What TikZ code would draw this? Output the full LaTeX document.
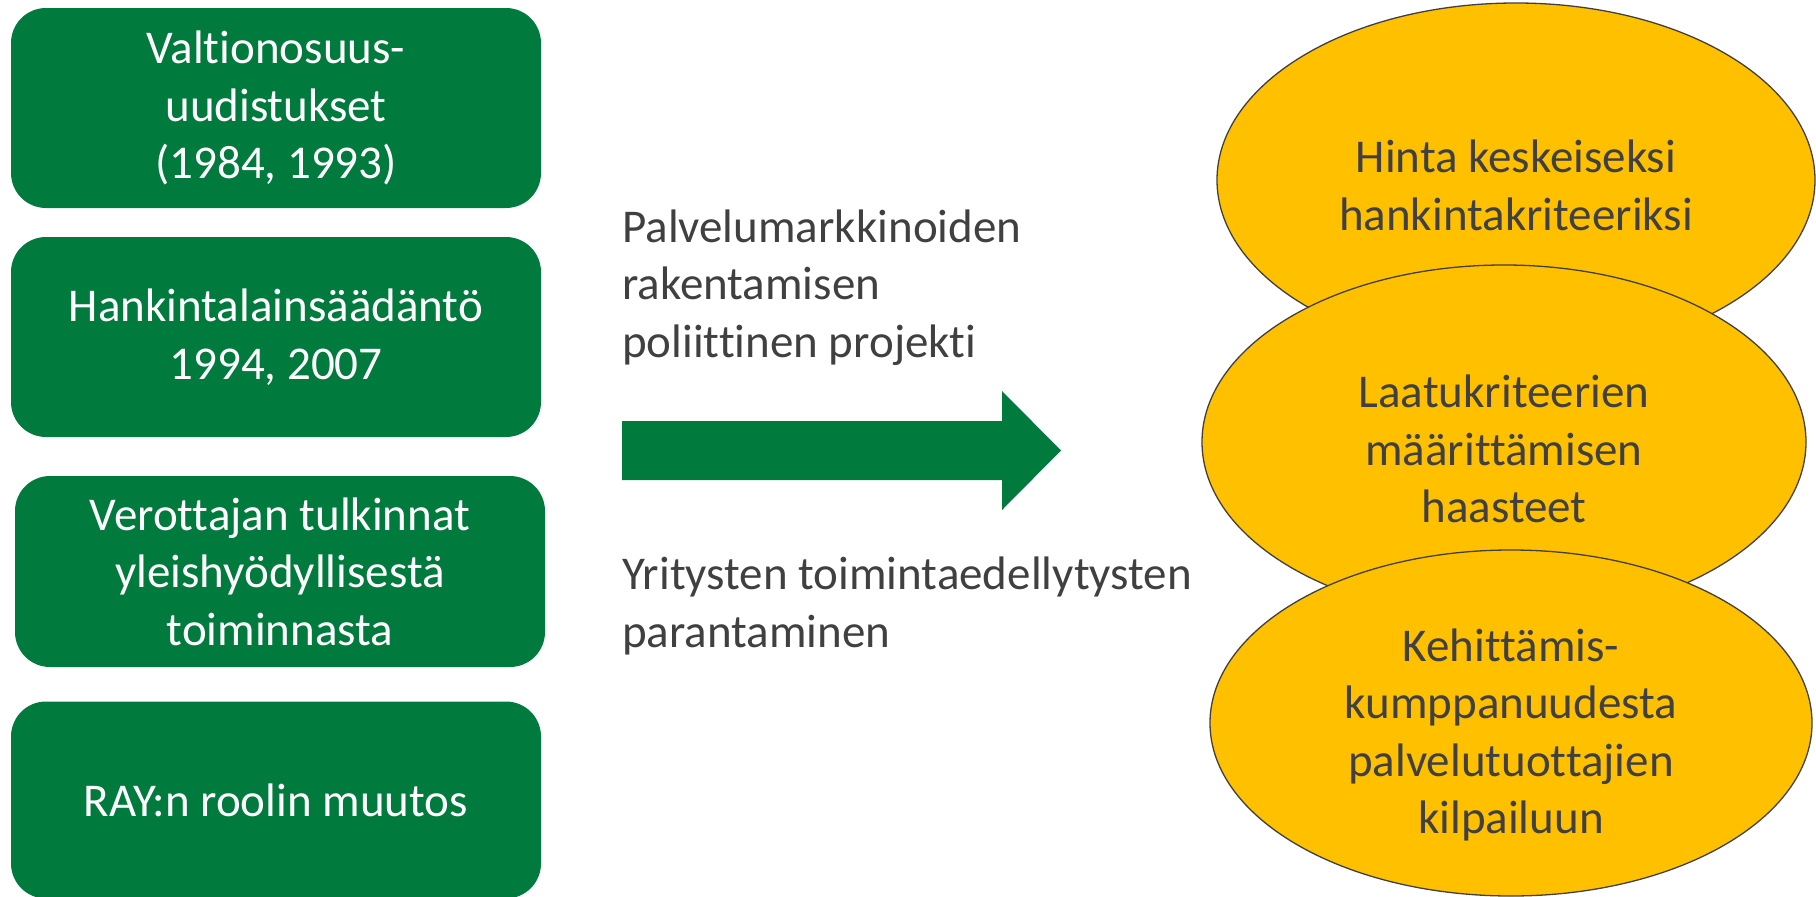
\documentclass[tikz,border=0pt]{standalone}
\usepackage{fontspec}
\setmainfont{Carlito}[Ligatures=CommonOff]
\usetikzlibrary{shapes.geometric}
\definecolor{boxgreen}{HTML}{007A3D}
\definecolor{ovalgold}{HTML}{FFC000}
\definecolor{textgray}{HTML}{404040}
\newcommand{\bigtext}{\fontsize{47}{57.5}\selectfont}
\tikzset{
  greenbox/.style = {rectangle, rounded corners=35pt, fill=boxgreen, text=white,
    align=center, minimum width=530pt, inner sep=0pt, font=\bigtext},
  goldoval/.style = {ellipse, fill=ovalgold, draw=textgray, line width=1.3pt,
    text=textgray, align=center, inner sep=0pt, text depth=0pt, font=\bigtext},
  sidetext/.style = {text=textgray, align=left, inner sep=0pt, anchor=base west,
    font=\bigtext}
}

\begin{document}
\begin{tikzpicture}[x=1pt, y=-1pt]
    \useasboundingbox (0,0) rectangle (1816,897);
    % left column
    \node[greenbox, minimum height=200pt] (valtio) at (276,108) {Valtionosuus-\\uudistukset\\(1984, 1993)};
    \node[greenbox, minimum height=200pt] (hankinta) at (276,337) {Hankintalainsäädäntö\\1994, 2007};
    \node[greenbox, minimum height=191pt] (verottaja) at (280,571.5) {Verottajan tulkinnat\\yleishyödyllisestä\\toiminnasta};
    \node[greenbox, minimum height=197pt] (ray) at (276,800) {RAY:n roolin muutos};
    % middle (base anchor sits on the last line)
    \node[sidetext] (projekti) at (622,357) {Palvelumarkkinoiden\\rakentamisen\\poliittinen projekti};
    \node[sidetext] (yritys) at (622,647) {Yritysten toimintaedellytysten\\parantaminen};
    \fill[boxgreen] (622,421) -- (1002,421) -- (1002,391) -- (1061,450.5)
        -- (1002,510) -- (1002,480) -- (622,480) -- cycle;
    % right column, text height pushes the lines a little down
    \node[goldoval, minimum width=598pt, minimum height=354pt, text height=100pt] (hinta) at (1516,180) {Hinta keskeiseksi\\hankintakriteeriksi};
    \node[goldoval, minimum width=604pt, minimum height=354pt, text height=161pt] (laatu) at (1504,442) {Laatukriteerien\\määrittämisen\\haasteet};
    \node[goldoval, minimum width=602pt, minimum height=346pt, text height=221pt] (kehitys) at (1511,723) {Kehittämis-\\kumppanuudesta\\palvelutuottajien\\kilpailuun};
\end{tikzpicture}
\end{document}
